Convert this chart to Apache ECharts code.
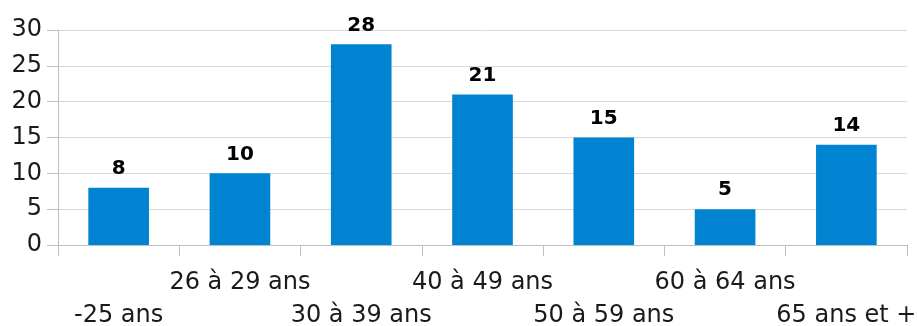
<!DOCTYPE html>
<html><head><meta charset="utf-8">
<script src="https://cdn.jsdelivr.net/npm/echarts@6/dist/echarts.min.js"></script>
<style>html,body{margin:0;padding:0;background:#fff}#c{width:917px;height:326px}</style>
</head><body><div id="c"></div>
<script>
const categories = ['-25 ans', '26 à 29 ans', '30 à 39 ans', '40 à 49 ans', '50 à 59 ans', '60 à 64 ans', '65 ans et +'];
const values = [8, 10, 28, 21, 15, 5, 14];
const yTicks = { min: 0, max: 30, interval: 5 };

const chart = echarts.init(document.getElementById('c'), null, { renderer: 'canvas' });
const font = '"DejaVu Sans", sans-serif';
chart.setOption({
  animation: false,
  grid: { left: 58, right: 10, top: 30, bottom: 81, containLabel: false, outerBoundsMode: 'none' },
  xAxis: {
    type: 'category',
    data: categories,
    axisLine: { show: true, lineStyle: { color: '#bfbfbf', width: 1 } },
    axisTick: { show: true, length: 11, lineStyle: { color: '#bfbfbf' } },
    axisLabel: {
      interval: 0, margin: 21, color: '#1a1a1a', fontFamily: font, fontSize: 24,
      lineHeight: 33, hideOverlap: false,
      formatter: (v, i) => (i % 2 === 0 ? '\n' + v : v)
    }
  },
  yAxis: {
    type: 'value', min: yTicks.min, max: yTicks.max, interval: yTicks.interval,
    axisLine: { show: true, lineStyle: { color: '#bfbfbf' } },
    axisTick: { show: true, length: 11, lineStyle: { color: '#bfbfbf' } },
    splitLine: { show: true, lineStyle: { color: '#d9d9d9' } },
    axisLabel: { margin: 16, color: '#1a1a1a', fontFamily: font, fontSize: 24 }
  },
  series: [{
    type: 'bar', data: values, barWidth: '50%',
    itemStyle: { color: '#0083D0' },
    label: { show: true, position: 'top', distance: 9, color: '#000', fontWeight: 'bold', fontFamily: font, fontSize: 20 }
  }]
});
</script></body></html>
